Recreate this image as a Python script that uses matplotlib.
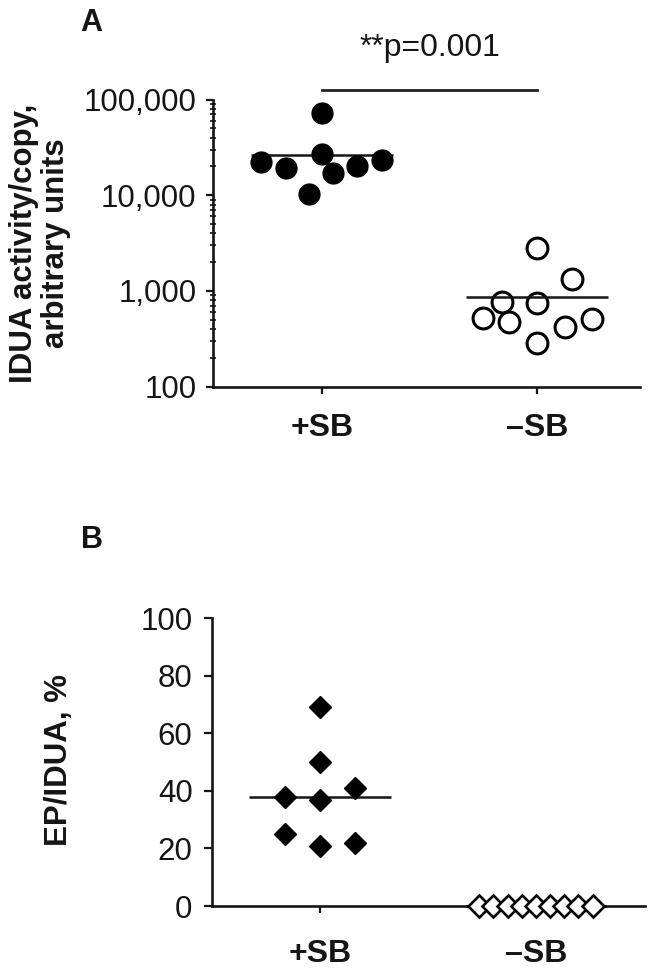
import numpy as np
import matplotlib
matplotlib.use("Agg")
import matplotlib.pyplot as plt
from matplotlib.ticker import FixedLocator, FuncFormatter, LogLocator, NullFormatter
import matplotlib.transforms as mtransforms

plt.rcParams['font.family'] = ['Liberation Sans', 'DejaVu Sans']

# ---------------- data ----------------
groups = ["+SB", "\u2013SB"]

# Panel A: IDUA activity/copy (arbitrary units)
a_plus = [72000, 22200, 19400, 26700, 17200, 20000, 23500, 10250]
a_plus_jit = [0.0, -0.284, -0.169, 0.0, 0.051, 0.163, 0.278, -0.06]
a_minus = [2785, 1333, 774, 755, 519, 479, 507, 419, 285]
a_minus_jit = [0.0, 0.161, -0.161, 0.0, -0.253, -0.129, 0.254, 0.130, 0.0]
a_yticks = [100, 1000, 10000, 100000]
p_text = "**p=0.001"

# Panel B: EP/IDUA, %
b_plus = [69, 50, 38, 36.8, 41, 24.9, 21, 22]
b_plus_jit = [0.0, 0.0, -0.16, 0.0, 0.16, -0.16, 0.0, 0.16]
b_minus = [0, 0, 0, 0, 0, 0, 0, 0, 0]
b_minus_jit = [-0.262, -0.197, -0.131, -0.066, 0.0, 0.066, 0.131, 0.197, 0.262]
b_yticks = [0, 20, 40, 60, 80, 100]

# ---------------- figure ----------------
W, H = 653, 973
fig = plt.figure(figsize=(W / 100, H / 100), dpi=100)

def px_axes(l, r, t, b):
    return fig.add_axes([l / W, 1 - b / H, (r - l) / W, (b - t) / H])

LW = 1.9
TICKFS = 22.5
LBLFS = 22.5
HALF = 0.33
INK = '#151515'

axA = px_axes(213, 640, 99.5, 386.7)
axB = px_axes(212, 645, 618, 906)

for ax in (axA, axB):
    for s in ('top', 'right'):
        ax.spines[s].set_visible(False)
    for s in ('left', 'bottom'):
        ax.spines[s].set_linewidth(LW)
        ax.spines[s].set_color(INK)

# ---- Panel A ----
axA.set_yscale('log')
axA.set_ylim(100, 100000)
axA.set_xlim(-0.507, 1.479)
xa_p = np.array(a_plus_jit) + 0
xa_m = np.array(a_minus_jit) + 1
axA.plot(xa_p, a_plus, linestyle='none', marker='o', ms=15, mfc='black',
         mec='black', mew=1, zorder=3, clip_on=False)
axA.plot(xa_m, a_minus, linestyle='none', marker='o', ms=15, mfc='white',
         mec='black', mew=2.2, zorder=3, clip_on=False)
axA.hlines(np.mean(a_plus), 0 - HALF, 0 + HALF, color=INK, lw=1.8, zorder=2)
axA.hlines(np.mean(a_minus), 1 - HALF, 1 + HALF, color=INK, lw=1.8, zorder=4)
axA.yaxis.set_major_locator(FixedLocator(a_yticks))
axA.yaxis.set_major_formatter(FuncFormatter(lambda v, p: f"{int(round(v)):,}"))
axA.yaxis.set_minor_locator(LogLocator(base=10, subs=np.arange(2, 10)))
axA.yaxis.set_minor_formatter(NullFormatter())
axA.tick_params(axis='y', which='major', direction='out', length=5, width=1.6,
                labelsize=TICKFS, pad=7, colors=INK)
axA.tick_params(axis='y', which='minor', direction='inout', length=4, width=1.2,
                colors=INK)
axA.set_xticks([0, 1])
axA.set_xticklabels(groups, fontweight='bold')
axA.tick_params(axis='x', direction='out', length=5, width=1.6, labelsize=23,
                pad=14, colors=INK)

# significance bar
trA = mtransforms.blended_transform_factory(axA.transData, axA.transAxes)
axA.plot([0, 1], [1.033, 1.033], transform=trA, color='#222222', lw=2.0,
         clip_on=False)
axA.text(0.5, 1.151, p_text, transform=trA, ha='center', va='baseline',
         fontsize=23, color=INK)

fig.text(40 / W, 1 - 243 / H, "IDUA activity/copy,\narbitrary units",
         rotation=90, ha='center', va='center', fontsize=LBLFS,
         fontweight='bold', multialignment='center', linespacing=1.1,
         color=INK)
fig.text(91 / W, 1 - 23 / H, "A", fontsize=22, fontweight='bold',
         ha='center', va='center', color=INK)

# ---- Panel B ----
axB.set_ylim(0, 100)
axB.set_xlim(-0.5, 1.505)
xb_p = np.array(b_plus_jit) + 0
xb_m = np.array(b_minus_jit) + 1
axB.plot(xb_p, b_plus, linestyle='none', marker='D', ms=11, mfc='black',
         mec='black', mew=1, zorder=3, clip_on=False)
axB.hlines(np.mean(b_plus), 0 - HALF, 0 + HALF, color=INK, lw=1.8, zorder=2)
axB.hlines(np.mean(b_minus), 1 - HALF, 1 + HALF, color=INK, lw=1.8,
           zorder=2, clip_on=False)
axB.plot(xb_m, b_minus, linestyle='none', marker='D', ms=11, mfc='white',
         mec='black', mew=1.9, zorder=4, clip_on=False)
axB.set_yticks(b_yticks)
axB.tick_params(axis='y', direction='out', length=6, width=1.6,
                labelsize=TICKFS, pad=8, colors=INK)
axB.set_xticks([0, 1])
axB.set_xticklabels(groups, fontweight='bold')
axB.tick_params(axis='x', direction='out', length=5, width=1.6, labelsize=23,
                pad=19, colors=INK)

fig.text(59 / W, 1 - 760 / H, "EP/IDUA, %", rotation=90, ha='center',
         va='center', fontsize=LBLFS, fontweight='bold', color=INK)
fig.text(92 / W, 1 - 540 / H, "B", fontsize=22, fontweight='bold',
         ha='center', va='center', color=INK)

fig.savefig("out.png", dpi=100)
